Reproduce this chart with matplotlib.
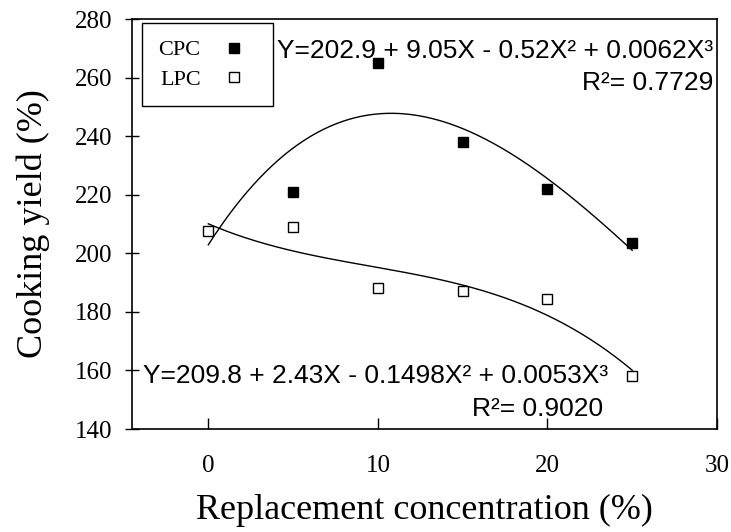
import numpy as np
import matplotlib
matplotlib.use("Agg")
import matplotlib.pyplot as plt
from matplotlib.lines import Line2D

cpc_x = [5, 10, 15, 20, 25]
cpc_y = [221, 265, 238, 222, 203.5]
lpc_x = [0, 5, 10, 15, 20, 25]
lpc_y = [207.5, 209, 188, 187, 184.5, 158]

cpc_coef = [202.9, 9.05, -0.52, 0.0062]
xticks = [0, 10, 20, 30]
yticks = [140, 160, 180, 200, 220, 240, 260, 280]

serif = ["Liberation Serif", "DejaVu Serif"]
sans = ["Liberation Sans", "DejaVu Sans"]

fig = plt.figure(figsize=(7.31, 5.32), dpi=100)
ax = fig.add_axes([132/731, 1 - 429/532, (717-132)/731, (429-19)/532])

xs = np.linspace(0, 25, 200)
c = cpc_coef
ax.plot(xs, c[0] + c[1]*xs + c[2]*xs**2 + c[3]*xs**3, color="black", lw=1.0)
p = np.polyfit(lpc_x, lpc_y, 3)
ax.plot(xs, np.polyval(p, xs), color="black", lw=1.0)

ax.plot(cpc_x, cpc_y, "s", ms=7, mfc="black", mec="black", ls="none")
ax.plot(lpc_x, lpc_y, "s", ms=7, mfc="white", mec="black", mew=1.0, ls="none")

ax.set_xlim(-4.5, 30)
ax.set_ylim(140, 280)
ax.set_xticks(xticks)
ax.set_yticks(yticks)
ax.tick_params(axis="y", direction="inout", length=10, width=1, labelsize=18, pad=9)
ax.tick_params(axis="x", direction="in", length=8, width=1, labelsize=18, pad=19)
for lab in ax.get_xticklabels() + ax.get_yticklabels():
    lab.set_fontfamily(serif)
for s in ax.spines.values():
    s.set_linewidth(1.2)

ax.set_xlabel("Replacement concentration (%)", fontsize=26, family=serif, labelpad=12)
ax.set_ylabel("Cooking yield (%)", fontsize=26, family=serif, labelpad=18)

handles = [Line2D([], [], marker="s", ls="none", ms=7, mfc="black", mec="black"),
           Line2D([], [], marker="s", ls="none", ms=7, mfc="white", mec="black")]
leg = ax.legend(handles, ["CPC", "LPC"], loc="upper left", bbox_to_anchor=(0.017, 0.99),
                prop={"family": serif, "size": 16}, markerfirst=False, fancybox=False,
                edgecolor="black", framealpha=1, handletextpad=0.5, borderpad=0.75,
                labelspacing=0.4, handlelength=2.0, borderaxespad=0)
leg.get_frame().set_linewidth(1.0)

def yfrac(py):
    return (429 - py) / 410

def xfrac(px):
    return (px - 132) / 585

ax.text(xfrac(713), yfrac(49), "Y=202.9 + 9.05X - 0.52X² + 0.0062X³", transform=ax.transAxes,
        ha="right", va="center_baseline", fontsize=19, family=sans)
ax.text(xfrac(713), yfrac(81), "R²= 0.7729", transform=ax.transAxes,
        ha="right", va="center_baseline", fontsize=19, family=sans)
ax.text(xfrac(143), yfrac(373.5), "Y=209.8 + 2.43X - 0.1498X² + 0.0053X³", transform=ax.transAxes,
        ha="left", va="center_baseline", fontsize=19, family=sans)
ax.text(xfrac(603), yfrac(406.5), "R²= 0.9020", transform=ax.transAxes,
        ha="right", va="center_baseline", fontsize=19, family=sans)

fig.savefig("out.png", dpi=100)
